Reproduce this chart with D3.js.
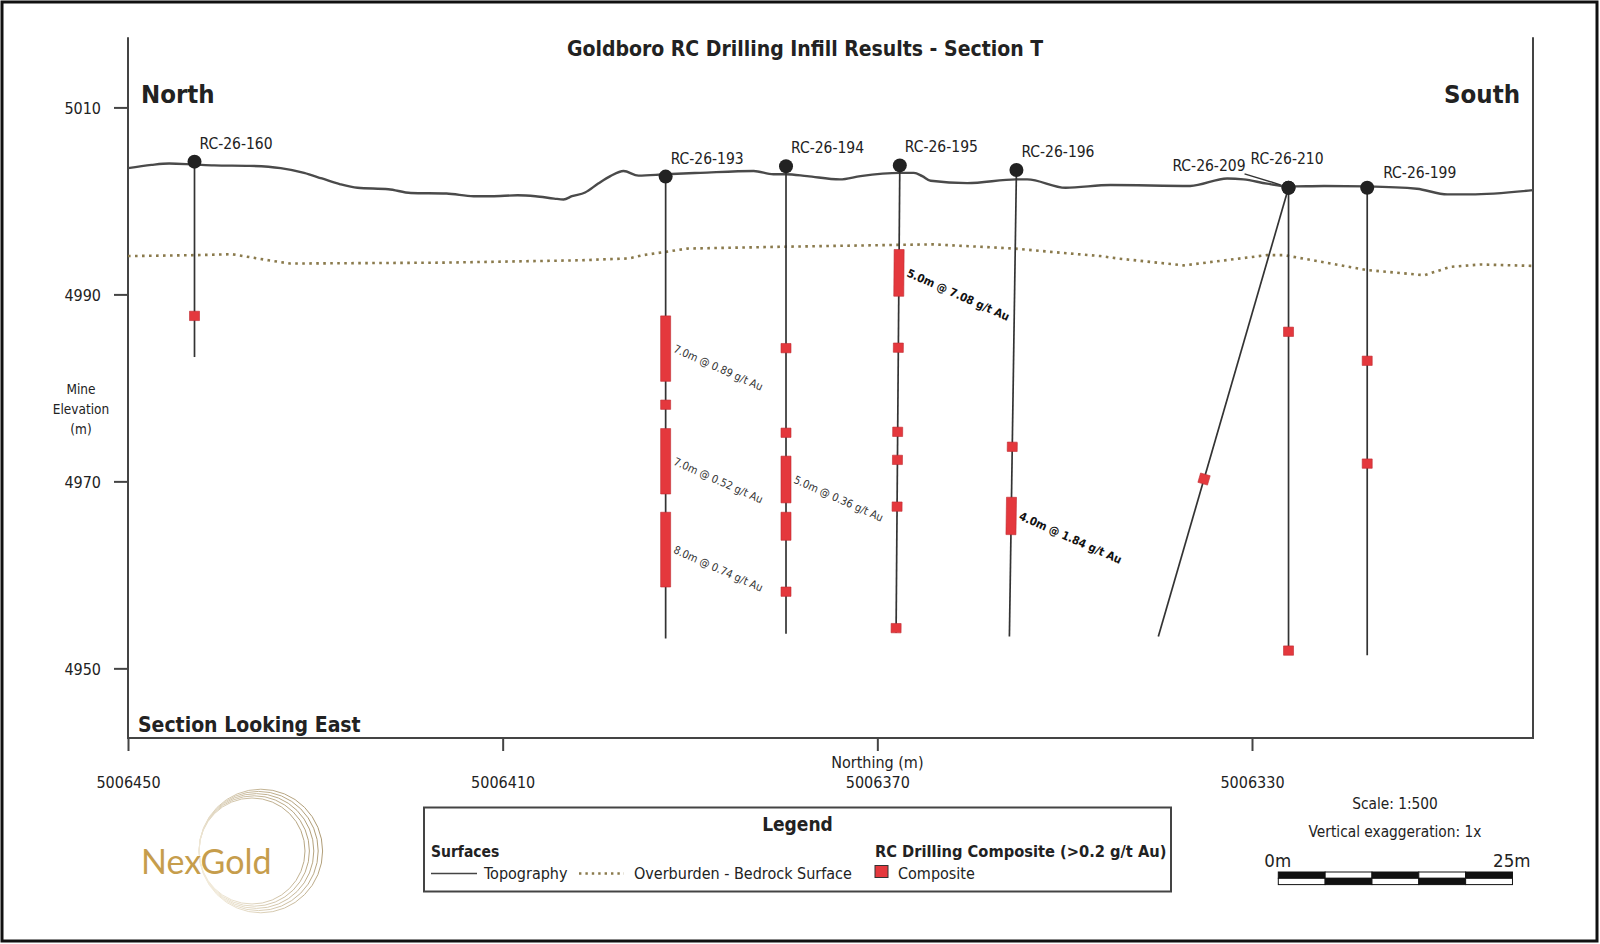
<!DOCTYPE html>
<html>
<head>
<meta charset="utf-8">
<script src="https://cdn.jsdelivr.net/npm/d3@7"></script>
<style>
  html, body { margin: 0; padding: 0; background: #fff; }
  svg { display: block; font-family: "DejaVu Sans Condensed", "DejaVu Sans", sans-serif; }
</style>
</head>
<body>
<svg id="chart" width="1600" height="944"></svg>
<script>
'use strict';

// drill holes
var holeIds = ['RC-26-160', 'RC-26-193', 'RC-26-194', 'RC-26-195', 'RC-26-196', 'RC-26-209', 'RC-26-210', 'RC-26-199'];
var collarNorthing = [5006442.9, 5006392.6, 5006379.75, 5006367.6, 5006355.15, 5006326.1, 5006326.1, 5006317.7];
var collarElev = [5004.2, 5002.6, 5003.7, 5003.8, 5003.3, 5001.4, 5001.4, 5001.4];
var endNorthing = [5006442.9, 5006392.6, 5006379.75, 5006368.0, 5006355.9, 5006340.0, 5006326.1, 5006317.7];
var endElev = [4983.3, 4953.2, 4953.7, 4953.8, 4953.4, 4953.4, 4951.6, 4951.4];

// composites (>0.2 g/t Au), hole index + elevation interval
var compHole = [0, 1, 1, 1, 1, 2, 2, 2, 2, 2, 3, 3, 3, 3, 3, 3, 4, 4, 5, 6, 6, 7, 7];
var compTop = [4988.2, 4987.7, 4978.7, 4975.65, 4966.7, 4984.75, 4975.7, 4972.7, 4966.7, 4958.7,
  4994.8, 4984.8, 4975.8, 4972.8, 4967.8, 4954.8, 4974.2, 4968.3, 4970.75, 4986.5, 4952.4, 4983.4, 4972.4];
var compBottom = [4987.2, 4980.7, 4977.7, 4968.65, 4958.7, 4983.75, 4974.7, 4967.7, 4963.7, 4957.7,
  4989.8, 4983.8, 4974.8, 4971.8, 4966.8, 4953.8, 4973.2, 4964.3, 4969.75, 4985.5, 4951.4, 4982.4, 4971.4];

// interval annotations
var intervalHole = [1, 1, 1, 2, 3, 4];
var intervalText = ['7.0m @ 0.89 g/t Au', '7.0m @ 0.52 g/t Au', '8.0m @ 0.74 g/t Au',
  '5.0m @ 0.36 g/t Au', '5.0m @ 7.08 g/t Au', '4.0m @ 1.84 g/t Au'];
var intervalElev = [4984.2, 4972.15, 4962.7, 4970.2, 4992.3, 4966.3];
var intervalHighGrade = [false, false, false, false, true, true];

// surfaces
var topoNorthing = [5006450, 5006447.5, 5006445.6, 5006443.0, 5006440.8, 5006437.0, 5006433.7, 5006431.2,
  5006429.3, 5006427.4, 5006425.5, 5006422.2, 5006419.8, 5006416.0, 5006413.1, 5006411.2, 5006408.4,
  5006406.5, 5006404.5, 5006403.5, 5006402.6, 5006401.2, 5006399.8, 5006398.5, 5006397.1, 5006395.5,
  5006392.6, 5006388.9, 5006383.2, 5006381.1, 5006379.75, 5006377.5, 5006374.0, 5006371.8, 5006367.6,
  5006366.1, 5006365.2, 5006364.3, 5006360.4, 5006355.15, 5006354.0, 5006349.9, 5006345.1, 5006336.6,
  5006332.65, 5006330.9, 5006328.4, 5006326.1, 5006322.3, 5006317.7, 5006312.4, 5006309.15, 5006306.7,
  5006300];
var topoElev = [5003.5, 5003.85, 5004.0, 5003.9, 5003.8, 5003.75, 5003.5, 5003.0,
  5002.4, 5001.8, 5001.4, 5001.25, 5000.85, 5000.8, 5000.5, 5000.5, 5000.6,
  5000.5, 5000.25, 5000.15, 5000.5, 5000.9, 5001.85, 5002.65, 5003.2, 5002.7,
  5002.85, 5003.0, 5003.2, 5002.85, 5002.85, 5002.65, 5002.3, 5002.65, 5003.0,
  5003.0, 5002.65, 5002.15, 5001.9, 5002.3, 5002.3, 5001.4, 5001.7, 5001.6,
  5002.4, 5002.3, 5001.85, 5001.55, 5001.6, 5001.55, 5001.3, 5000.7, 5000.7,
  5001.15];
var overburdenNorthing = [5006450, 5006442.7, 5006438.9, 5006437.7, 5006435.0, 5006432.7, 5006416.0,
  5006401.7, 5006396.5, 5006395.0, 5006392.6, 5006390.3, 5006380.0, 5006367.5, 5006364.0, 5006355.3,
  5006351.5, 5006346.2, 5006344.4, 5006337.3, 5006328.4, 5006326.6, 5006317.7, 5006311.6, 5006308.8,
  5006305.6, 5006300];
var overburdenElev = [4994.1, 4994.2, 4994.3, 4994.1, 4993.65, 4993.3, 4993.4,
  4993.65, 4993.85, 4994.2, 4994.55, 4994.9, 4995.1, 4995.3, 4995.35, 4994.9,
  4994.55, 4994.1, 4993.85, 4993.1, 4994.2, 4994.2, 4992.6, 4992.05, 4992.95,
  4993.2, 4993.05];

// axes
var elevTicks = [4950, 4970, 4990, 5010];
var northingTicks = [5006450, 5006410, 5006370, 5006330];

// hole label placement (pixel offsets from collar)
var labelOffset = {
  'RC-26-209': [-43, -17, 'end'],
  'RC-26-210': [-38, -24, 'start'],
  'RC-26-199': [16, -10, 'start']
};

var svg = d3.select('#chart');
var x = d3.scaleLinear().domain([5006450, 5006300]).range([128, 1533]);
var y = d3.scaleLinear().domain([4942.55, 5017.5]).range([738, 37.3]);

var red = '#e4383d';
var ink = '#222';

// outer frame
svg.append('rect').attr('x', 2).attr('y', 2).attr('width', 1595).attr('height', 939)
  .attr('fill', '#fff').attr('stroke', '#111').attr('stroke-width', 3);

// plot frame: left, right, bottom
svg.append('path')
  .attr('d', 'M' + x.range()[0] + ',' + y.range()[1] + 'V' + y.range()[0] + 'H' + x.range()[1] + 'V' + y.range()[1])
  .attr('fill', 'none').attr('stroke', '#444').attr('stroke-width', 2);

var yAxis = svg.append('g').attr('transform', 'translate(' + x.range()[0] + ',0)')
  .call(d3.axisLeft(y).tickValues(elevTicks).tickSize(14).tickPadding(13).tickFormat(d3.format('d')));
var xAxis = svg.append('g').attr('transform', 'translate(0,' + y.range()[0] + ')')
  .call(d3.axisBottom(x).tickValues(northingTicks).tickSize(13).tickPadding(26).tickFormat(d3.format('d')));
[yAxis, xAxis].forEach(function(g) {
  g.select('.domain').remove();
  g.selectAll('.tick line').attr('stroke', '#444').attr('stroke-width', 2);
  g.selectAll('.tick text').attr('fill', ink).style('font-size', '16px')
    .style('font-family', '"DejaVu Sans Condensed", "DejaVu Sans", sans-serif');
});
yAxis.selectAll('.tick text').attr('dy', '0.36em');

// axis titles
svg.append('text').attr('x', x(5006370)).attr('y', 768).attr('text-anchor', 'middle')
  .attr('fill', ink).style('font-size', '16px').text('Northing (m)');
var yTitle = svg.append('text').attr('x', 81).attr('text-anchor', 'middle').attr('fill', ink).style('font-size', '13.5px');
['Mine', 'Elevation', '(m)'].forEach(function(t, i) {
  yTitle.append('tspan').attr('x', 81).attr('y', 394 + i * 20).text(t);
});

// title and orientation
svg.append('text').attr('x', 805).attr('y', 56).attr('text-anchor', 'middle').attr('fill', ink)
  .style('font-size', '21px').style('font-weight', 'bold').text('Goldboro RC Drilling Infill Results - Section T');
svg.append('text').attr('x', 141).attr('y', 103).attr('fill', ink)
  .style('font-size', '25.5px').style('font-weight', 'bold').text('North');
svg.append('text').attr('x', 1520).attr('y', 103).attr('text-anchor', 'end').attr('fill', ink)
  .style('font-size', '25.5px').style('font-weight', 'bold').text('South');
svg.append('text').attr('x', 138).attr('y', 732).attr('fill', ink)
  .style('font-size', '21px').style('font-weight', 'bold').text('Section Looking East');

// surfaces
var line = d3.line().x(function(d) { return x(d[0]); }).y(function(d) { return y(d[1]); });
svg.append('path').datum(d3.zip(overburdenNorthing, overburdenElev)).attr('d', line)
  .attr('fill', 'none').attr('stroke', '#8a7a4c').attr('stroke-width', 2.6)
  .attr('stroke-dasharray', '2.6,4.4');
svg.append('path').datum(d3.zip(topoNorthing, topoElev)).attr('d', line.curve(d3.curveMonotoneX))
  .attr('fill', 'none').attr('stroke', '#4a4a4a').attr('stroke-width', 2.4);

// hole geometry
var pointAt = function(i, e) {
  var t = (collarElev[i] - e) / (collarElev[i] - endElev[i]);
  var n = collarNorthing[i] + t * (endNorthing[i] - collarNorthing[i]);
  return [x(n), y(e)];
};

var holes = svg.append('g');
holeIds.forEach(function(id, i) {
  holes.append('line')
    .attr('x1', x(collarNorthing[i])).attr('y1', y(collarElev[i]))
    .attr('x2', x(endNorthing[i])).attr('y2', y(endElev[i]))
    .attr('stroke', '#333').attr('stroke-width', 1.7);
});

// composites as rectangles along the hole trace
compHole.forEach(function(h, k) {
  var a = pointAt(h, compTop[k]);
  var b = pointAt(h, compBottom[k]);
  var dx = b[0] - a[0], dy = b[1] - a[1];
  var len = Math.sqrt(dx * dx + dy * dy);
  var px = -dy / len * 5, py = dx / len * 5;
  var pts = [[a[0] + px, a[1] + py], [a[0] - px, a[1] - py], [b[0] - px, b[1] - py], [b[0] + px, b[1] + py]];
  svg.append('polygon').attr('points', pts.map(function(p) { return p.join(','); }).join(' '))
    .attr('fill', red).attr('stroke', '#c02a30').attr('stroke-width', 0.6);
});

// interval labels
intervalHole.forEach(function(h, k) {
  var p = pointAt(h, intervalElev[k]);
  svg.append('text')
    .attr('transform', 'translate(' + (p[0] + 7) + ',' + (p[1] + 3) + ') rotate(24)')
    .attr('fill', intervalHighGrade[k] ? '#111' : '#333')
    .style('font-size', intervalHighGrade[k] ? '11.5px' : '11px')
    .style('font-weight', intervalHighGrade[k] ? 'bold' : 'normal')
    .text(intervalText[k]);
});

// collars and names
holeIds.forEach(function(id, i) {
  var cx = x(collarNorthing[i]), cy = y(collarElev[i]);
  svg.append('circle').attr('cx', cx).attr('cy', cy).attr('r', 7).attr('fill', ink);
  var off = labelOffset[id] || [5, -13, 'start'];
  svg.append('text').attr('x', cx + off[0]).attr('y', cy + off[1]).attr('text-anchor', off[2])
    .attr('fill', ink).style('font-size', '15.5px').text(id);
});
// leader for RC-26-209
var c209 = pointAt(holeIds.indexOf('RC-26-209'), collarElev[5]);
svg.append('line').attr('x1', c209[0] - 44).attr('y1', c209[1] - 14).attr('x2', c209[0] - 8).attr('y2', c209[1] - 3)
  .attr('stroke', '#333').attr('stroke-width', 1.4);

// legend box
var lg = svg.append('g');
lg.append('rect').attr('x', 424).attr('y', 807.5).attr('width', 747).attr('height', 84)
  .attr('fill', '#fff').attr('stroke', '#444').attr('stroke-width', 2);
lg.append('text').attr('x', 797.5).attr('y', 831).attr('text-anchor', 'middle').attr('fill', ink)
  .style('font-size', '19px').style('font-weight', 'bold').text('Legend');
lg.append('text').attr('x', 431).attr('y', 857).attr('fill', ink)
  .style('font-size', '15.5px').style('font-weight', 'bold').text('Surfaces');
lg.append('text').attr('x', 875).attr('y', 857).attr('fill', ink)
  .style('font-size', '16.3px').style('font-weight', 'bold').text('RC Drilling Composite (>0.2 g/t Au)');
lg.append('line').attr('x1', 431).attr('x2', 477).attr('y1', 873.5).attr('y2', 873.5)
  .attr('stroke', '#444').attr('stroke-width', 1.6);
lg.append('text').attr('x', 484).attr('y', 879).attr('fill', ink).style('font-size', '16px').text('Topography');
lg.append('line').attr('x1', 579).attr('x2', 624).attr('y1', 873.5).attr('y2', 873.5)
  .attr('stroke', '#8a7a4c').attr('stroke-width', 2.4).attr('stroke-dasharray', '2.4,4');
lg.append('text').attr('x', 634).attr('y', 879).attr('fill', ink).style('font-size', '16px').text('Overburden - Bedrock Surface');
lg.append('rect').attr('x', 875).attr('y', 865.5).attr('width', 13).attr('height', 12)
  .attr('fill', red).attr('stroke', '#333').attr('stroke-width', 1);
lg.append('text').attr('x', 898).attr('y', 879).attr('fill', ink).style('font-size', '16px').text('Composite');

// scale bar
svg.append('text').attr('x', 1395).attr('y', 809).attr('text-anchor', 'middle').attr('fill', ink)
  .style('font-size', '15.3px').text('Scale: 1:500');
svg.append('text').attr('x', 1395).attr('y', 837).attr('text-anchor', 'middle').attr('fill', ink)
  .style('font-size', '15.3px').text('Vertical exaggeration: 1x');
var barX0 = 1278.3;
var segW = (x(5006445) - x(5006450));
svg.append('text').attr('x', barX0 - 14).attr('y', 867).attr('fill', ink).style('font-size', '18.5px').text('0m');
svg.append('text').attr('x', barX0 + segW * 5 + 18).attr('y', 867).attr('text-anchor', 'end').attr('fill', ink)
  .style('font-size', '18.5px').text('25m');
d3.range(5).forEach(function(s) {
  [0, 1].forEach(function(r) {
    svg.append('rect').attr('x', barX0 + s * segW).attr('y', 872 + r * 6.3).attr('width', segW).attr('height', 6.3)
      .attr('fill', (s + r) % 2 === 0 ? '#111' : '#fff').attr('stroke', '#111').attr('stroke-width', 1);
  });
});

// logo
var defs = svg.append('defs');
var grad = defs.append('linearGradient').attr('id', 'ring').attr('gradientUnits', 'userSpaceOnUse')
  .attr('x1', 198).attr('y1', 870).attr('x2', 325).attr('y2', 820);
grad.append('stop').attr('offset', '0').attr('stop-color', '#f4eddd');
grad.append('stop').attr('offset', '1').attr('stop-color', '#a8946c');
d3.range(5).forEach(function(k) {
  var r = 53 + k * 2.2;
  svg.append('circle').attr('cx', 199 + r).attr('cy', 851).attr('r', r)
    .attr('fill', 'none').attr('stroke', 'url(#ring)').attr('stroke-width', 1);
});
svg.append('text').attr('x', 141).attr('y', 874).attr('fill', '#c69d4c')
  .style('font-family', 'Lato, sans-serif').style('font-size', '34px').text('NexGold');
</script>
</body>
</html>
